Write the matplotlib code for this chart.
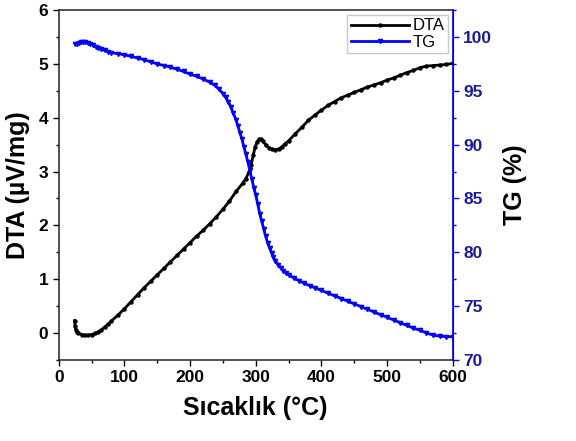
import numpy as np
import matplotlib.pyplot as plt
from matplotlib.ticker import MultipleLocator

plt.rcParams['font.family'] = ['Liberation Sans', 'DejaVu Sans']

# DTA curve
t_dta = [24, 25, 26, 28, 30, 35, 40, 45, 50, 55, 60, 65, 70, 75, 80, 90, 100, 110, 120,
         130, 140, 150, 160, 170, 180, 190, 200, 210, 220, 230, 240, 250, 260, 270,
         280, 285, 290, 293, 296, 299, 302, 305, 308, 311, 315, 320, 325, 330, 335,
         340, 345, 350, 360, 370, 380, 390, 400, 410, 420, 430, 440, 450, 460, 470,
         480, 490, 500, 510, 520, 530, 540, 550, 560, 570, 580, 590, 600]
dta = [0.23, 0.12, 0.06, 0.02, 0.0, -0.03, -0.04, -0.04, -0.03, -0.01, 0.02, 0.06, 0.11,
       0.16, 0.22, 0.33, 0.45, 0.58, 0.71, 0.84, 0.96, 1.08, 1.2, 1.32, 1.44, 1.56,
       1.68, 1.8, 1.91, 2.03, 2.16, 2.3, 2.45, 2.63, 2.78, 2.87, 3.0, 3.12, 3.3, 3.45,
       3.55, 3.6, 3.6, 3.56, 3.5, 3.44, 3.41, 3.4, 3.42, 3.46, 3.52, 3.57, 3.7, 3.82,
       3.95, 4.05, 4.14, 4.23, 4.3, 4.37, 4.42, 4.47, 4.52, 4.57, 4.61, 4.65, 4.7,
       4.74, 4.79, 4.84, 4.88, 4.93, 4.96, 4.97, 4.98, 4.99, 5.01]

# TG curve
t_tg = [25, 28, 31, 34, 37, 40, 44, 48, 52, 56, 60, 65, 70, 75, 80, 90, 100, 110, 120,
        130, 140, 150, 160, 170, 180, 190, 200, 210, 220, 230, 238, 244, 250, 254, 258,
        262, 266, 270, 273, 276, 279, 282, 285, 288, 291, 294, 297, 300, 303, 306, 309,
        312, 315, 318, 321, 324, 327, 330, 334, 338, 342, 346, 350, 358, 366, 374, 382,
        390, 400, 410, 420, 430, 440, 450, 460, 470, 480, 490, 500, 510, 520, 530, 540,
        550, 560, 570, 580, 590, 600]
tg = [99.35, 99.4, 99.45, 99.5, 99.5, 99.5, 99.45, 99.35, 99.25, 99.1, 99.0, 98.85, 98.75,
      98.65, 98.55, 98.45, 98.35, 98.2, 98.05, 97.9, 97.7, 97.5, 97.35, 97.2, 97.0, 96.8,
      96.55, 96.35, 96.1, 95.8, 95.5, 95.15, 94.75, 94.4, 94.0, 93.5, 92.9, 92.3, 91.7,
      91.1, 90.5, 89.8, 89.1, 88.4, 87.6, 86.8, 86.0, 85.3, 84.5, 83.6, 82.9, 82.2, 81.5,
      80.9, 80.4, 79.95, 79.55, 79.2, 78.85, 78.55, 78.3, 78.1, 77.9, 77.6, 77.35,
      77.1, 76.9, 76.7, 76.45, 76.2, 75.95, 75.7, 75.45, 75.2, 74.95, 74.7, 74.45,
      74.2, 73.95, 73.7, 73.45, 73.2, 72.95, 72.75, 72.5, 72.3, 72.2, 72.15, 72.15]

fig = plt.figure(figsize=(5.76, 4.41), dpi=100)
ax = fig.add_axes([0.102, 0.184, 0.684, 0.793])
ax2 = ax.twinx()

l1, = ax.plot(t_dta, dta, color='black', lw=2, marker='o', ms=2.2, label='DTA')
l2, = ax2.plot(t_tg, tg, color='#0000ff', lw=2, marker='v', ms=3, label='TG')

ax.set_xlim(0, 600)
ax.set_ylim(-0.5, 6)
ax2.set_ylim(70, 102.5)

ax.xaxis.set_major_locator(MultipleLocator(100))
ax.xaxis.set_minor_locator(MultipleLocator(50))
ax.yaxis.set_major_locator(MultipleLocator(1))
ax.yaxis.set_minor_locator(MultipleLocator(0.5))
ax2.yaxis.set_major_locator(MultipleLocator(5))
ax2.yaxis.set_minor_locator(MultipleLocator(2.5))

ax.tick_params(which='major', length=4, width=1, labelsize=12.5)
ax.tick_params(which='minor', length=2.5, width=1)
ax2.tick_params(which='major', length=4, width=1, labelsize=12.5,
                color='#0000ff', labelcolor='#1a1a9a')
ax2.tick_params(which='minor', length=2.5, width=1, color='#0000ff')
for lab in ax.get_xticklabels() + ax.get_yticklabels() + ax2.get_yticklabels():
    lab.set_fontweight('bold')

for s in ['left', 'bottom', 'top']:
    ax.spines[s].set_color('#333333')
    ax.spines[s].set_linewidth(1.2)
ax2.spines['right'].set_color('#0000ff')
ax2.spines['right'].set_linewidth(1.2)
ax2.spines['top'].set_visible(False)
ax2.spines['left'].set_visible(False)
ax2.spines['bottom'].set_visible(False)

ax.set_xlabel('Sıcaklık (°C)', fontsize=18, fontweight='bold', labelpad=8)
ax.set_ylabel('DTA (µV/mg)', fontsize=18, fontweight='bold', labelpad=6)
ax2.set_ylabel('TG (%)', fontsize=18, fontweight='bold', labelpad=8)

leg = ax.legend(handles=[l1, l2], loc='upper right', fontsize=12, frameon=True,
                fancybox=False, borderaxespad=0.3, handlelength=3.5, handletextpad=0.2,
                borderpad=0.2, labelspacing=0.1)
leg.get_frame().set_edgecolor('#bbbbbb')
leg.get_frame().set_linewidth(1)

fig.savefig('out.png', dpi=100)
